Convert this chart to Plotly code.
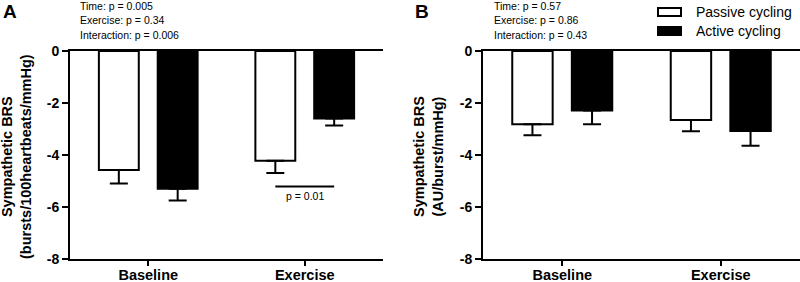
import plotly.graph_objects as go

W, H = 800, 282

categories = ["Baseline", "Exercise"]
series_names = ["Passive cycling", "Active cycling"]

# Panel A: Sympathetic BRS (bursts/100heartbeats/mmHg)
a_passive = [-4.58, -4.22]
a_passive_se = [0.52, 0.47]
a_active = [-5.30, -2.60]
a_active_se = [0.45, 0.27]

# Panel B: Sympathetic BRS (AU/burst/mmHg)
b_passive = [-2.82, -2.65]
b_passive_se = [0.42, 0.44]
b_active = [-2.29, -3.08]
b_active_se = [0.53, 0.56]

y_ticks = [0, -2, -4, -6, -8]
y_tick_labels = ["0", "-2", "-4", "-6", "-8"]

a_stats = ["Time: p = 0.005", "Exercise: p = 0.34", "Interaction: p = 0.006"]
b_stats = ["Time: p = 0.57", "Exercise: p = 0.86", "Interaction: p = 0.43"]
sig_label = "p = 0.01"
sig_y = -5.21

FONT = "Arial, Liberation Sans, Helvetica, sans-serif"
fills = ["white", "black"]

fig = go.Figure()

def add_panel(vals, ses, xa, ya):
    for name, v, se, fc in zip(series_names, vals, ses, fills):
        fig.add_trace(go.Bar(
            x=categories, y=v, name=name, xaxis=xa, yaxis=ya,
            marker=dict(color=fc, line=dict(color="black", width=2)),
            error_y=dict(type="data", symmetric=False, array=[0] * len(v),
                         arrayminus=se, color="black", thickness=2, width=9),
            showlegend=False, hoverinfo="skip",
        ))

add_panel([a_passive, a_active], [a_passive_se, a_active_se], "x", "y")
add_panel([b_passive, b_active], [b_passive_se, b_active_se], "x2", "y2")

def px_x(p):
    return p / W

def px_y(p):
    return 1 - p / H

ydom = [px_y(259), px_y(51)]

axis_common_x = dict(
    range=[-0.5, 1.5], showline=True, linecolor="black", linewidth=2, mirror=True,
    ticks="outside", ticklen=5, tickwidth=2, tickcolor="black",
    tickvals=categories, ticktext=["<b>%s</b>" % c for c in categories],
    tickfont=dict(family=FONT, size=14.5, color="black"), ticklabelstandoff=-3,
    showgrid=False, zeroline=False, automargin=False, fixedrange=True,
)
axis_common_y = dict(
    range=[-8, 0], domain=ydom, showline=True, linecolor="black", linewidth=2,
    ticks="outside", ticklen=6, tickwidth=2, tickcolor="black",
    tickvals=y_ticks, ticktext=["<b>%s</b>" % t for t in y_tick_labels],
    tickfont=dict(family=FONT, size=14, color="black"),
    showgrid=False, zeroline=False, automargin=False, fixedrange=True,
)

fig.update_layout(
    width=W, height=H,
    margin=dict(l=0, r=0, t=0, b=0, pad=0),
    paper_bgcolor="white", plot_bgcolor="white",
    template="none",
    barmode="group", bargap=0.248, bargroupgap=0.322,
    xaxis=dict(domain=[px_x(70), px_x(383)], anchor="y", **axis_common_x),
    yaxis=dict(anchor="x", **axis_common_y),
    xaxis2=dict(domain=[px_x(483), 1.0], anchor="y2", **axis_common_x),
    yaxis2=dict(anchor="x2", **axis_common_y),
    showlegend=False,
)

ann = []
# panel letters
ann.append(dict(text="<b>A</b>", x=px_x(1), y=px_y(11), xref="paper", yref="paper",
                xanchor="left", yanchor="middle", showarrow=False,
                font=dict(family=FONT, size=19, color="black")))
ann.append(dict(text="<b>B</b>", x=px_x(413), y=px_y(11), xref="paper", yref="paper",
                xanchor="left", yanchor="middle", showarrow=False,
                font=dict(family=FONT, size=19, color="black")))
# stats text
for i, (sa, sb) in enumerate(zip(a_stats, b_stats)):
    yy = px_y(6 + 14.5 * i)
    ann.append(dict(text=sa, x=px_x(78), y=yy, xref="paper", yref="paper",
                    xanchor="left", yanchor="middle", showarrow=False,
                    font=dict(family=FONT, size=10.5, color="black")))
    ann.append(dict(text=sb, x=px_x(492), y=yy, xref="paper", yref="paper",
                    xanchor="left", yanchor="middle", showarrow=False,
                    font=dict(family=FONT, size=10.5, color="black")))
# y titles
ann.append(dict(text="<b>Sympathetic BRS<br>(bursts/100heartbeats/mmHg)</b>",
                x=px_x(16), y=px_y(157), xref="paper", yref="paper",
                xanchor="center", yanchor="middle", showarrow=False, textangle=-90,
                font=dict(family=FONT, size=14.5, color="black")))
ann.append(dict(text="<b>Sympathetic BRS<br>(AU/burst/mmHg)</b>",
                x=px_x(428), y=px_y(157), xref="paper", yref="paper",
                xanchor="center", yanchor="middle", showarrow=False, textangle=-90,
                font=dict(family=FONT, size=14.5, color="black")))
# significance
ann.append(dict(text=sig_label, x=categories[1], y=sig_y, xref="x", yref="y",
                xanchor="center", yanchor="top", yshift=-2, showarrow=False,
                font=dict(family=FONT, size=10.5, color="black")))

shapes = []
half = (1 - 0.248) / 4
shapes.append(dict(type="line", xref="x", yref="y", x0=1 - half, x1=1 + half,
                   y0=sig_y, y1=sig_y, line=dict(color="black", width=2)))

# legend
for i, (name, fc) in enumerate(zip(series_names, fills)):
    cy = 12 + 19 * i
    shapes.append(dict(type="rect", xref="paper", yref="paper",
                       x0=px_x(658), x1=px_x(681), y0=px_y(cy - 4), y1=px_y(cy + 4),
                       fillcolor=fc, line=dict(color="black", width=2)))
    ann.append(dict(text=name, x=px_x(694), y=px_y(cy), xref="paper", yref="paper",
                    xanchor="left", yanchor="middle", showarrow=False,
                    font=dict(family=FONT, size=14, color="black")))

fig.update_layout(annotations=ann, shapes=shapes)
fig.write_html("out.html", config={"displayModeBar": False},
               post_script="document.body.style.margin='0';document.body.style.overflow='hidden';")
